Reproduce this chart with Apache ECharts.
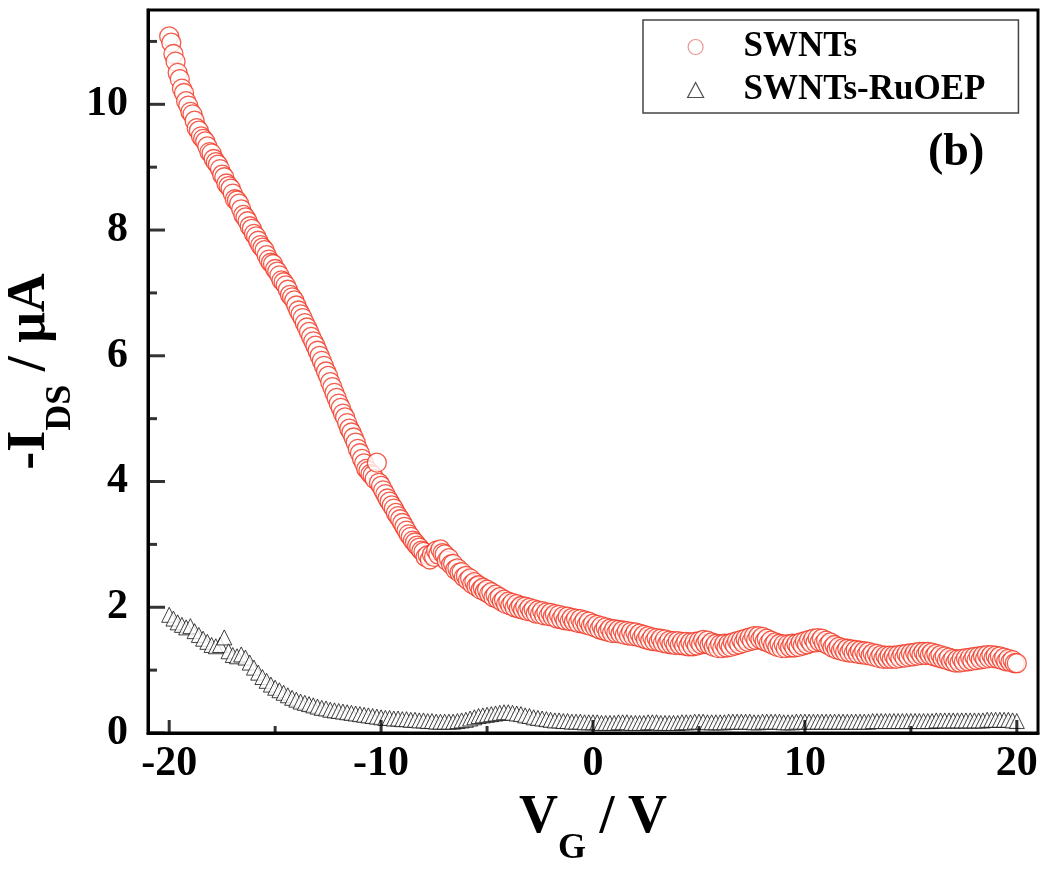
<!DOCTYPE html>
<html>
<head>
<meta charset="utf-8">
<script src="https://cdn.jsdelivr.net/npm/echarts@6/dist/echarts.min.js"></script>
<style>
html,body{margin:0;padding:0;background:#fff;}
#chart{width:1050px;height:877px;}
</style>
</head>
<body>
<div id="chart"></div>
<script>
// Gate voltage sweep for SWNTs (V)
const VG_SWNTS = [
-20.0,-19.9,-19.8,-19.7,-19.6,-19.5,-19.4,-19.3,-19.2,-19.1,
-19.0,-18.9,-18.8,-18.7,-18.6,-18.5,-18.4,-18.3,-18.2,-18.1,
-18.0,-17.9,-17.8,-17.7,-17.6,-17.5,-17.4,-17.3,-17.2,-17.1,
-17.0,-16.9,-16.8,-16.7,-16.6,-16.5,-16.4,-16.3,-16.2,-16.1,
-16.0,-15.9,-15.8,-15.7,-15.6,-15.5,-15.4,-15.3,-15.2,-15.1,
-15.0,-14.9,-14.8,-14.7,-14.6,-14.5,-14.4,-14.3,-14.2,-14.1,
-14.0,-13.9,-13.8,-13.7,-13.6,-13.5,-13.4,-13.3,-13.2,-13.1,
-13.0,-12.9,-12.8,-12.7,-12.6,-12.5,-12.4,-12.3,-12.2,-12.1,
-12.0,-11.9,-11.8,-11.7,-11.6,-11.5,-11.4,-11.3,-11.2,-11.1,
-11.0,-10.9,-10.8,-10.7,-10.6,-10.5,-10.4,-10.3,-10.2,-10.1,
-10.0,-9.9,-9.8,-9.7,-9.6,-9.5,-9.4,-9.3,-9.2,-9.1,
-9.0,-8.9,-8.8,-8.7,-8.6,-8.5,-8.4,-8.3,-8.2,-8.1,
-8.0,-7.9,-7.8,-7.7,-7.6,-7.5,-7.4,-7.3,-7.2,-7.1,
-7.0,-6.9,-6.8,-6.7,-6.6,-6.5,-6.4,-6.3,-6.2,-6.1,
-6.0,-5.9,-5.8,-5.7,-5.6,-5.5,-5.4,-5.3,-5.2,-5.1,
-5.0,-4.9,-4.8,-4.7,-4.6,-4.5,-4.4,-4.3,-4.2,-4.1,
-4.0,-3.9,-3.8,-3.7,-3.6,-3.5,-3.4,-3.3,-3.2,-3.1,
-3.0,-2.9,-2.8,-2.7,-2.6,-2.5,-2.4,-2.3,-2.2,-2.1,
-2.0,-1.9,-1.8,-1.7,-1.6,-1.5,-1.4,-1.3,-1.2,-1.1,
-1.0,-0.9,-0.8,-0.7,-0.6,-0.5,-0.4,-0.3,-0.2,-0.1,
0.0,0.1,0.2,0.3,0.4,0.5,0.6,0.7,0.8,0.9,
1.0,1.1,1.2,1.3,1.4,1.5,1.6,1.7,1.8,1.9,
2.0,2.1,2.2,2.3,2.4,2.5,2.6,2.7,2.8,2.9,
3.0,3.1,3.2,3.3,3.4,3.5,3.6,3.7,3.8,3.9,
4.0,4.1,4.2,4.3,4.4,4.5,4.6,4.7,4.8,4.9,
5.0,5.1,5.2,5.3,5.4,5.5,5.6,5.7,5.8,5.9,
6.0,6.1,6.2,6.3,6.4,6.5,6.6,6.7,6.8,6.9,
7.0,7.1,7.2,7.3,7.4,7.5,7.6,7.7,7.8,7.9,
8.0,8.1,8.2,8.3,8.4,8.5,8.6,8.7,8.8,8.9,
9.0,9.1,9.2,9.3,9.4,9.5,9.6,9.7,9.8,9.9,
10.0,10.1,10.2,10.3,10.4,10.5,10.6,10.7,10.8,10.9,
11.0,11.1,11.2,11.3,11.4,11.5,11.6,11.7,11.8,11.9,
12.0,12.1,12.2,12.3,12.4,12.5,12.6,12.7,12.8,12.9,
13.0,13.1,13.2,13.3,13.4,13.5,13.6,13.7,13.8,13.9,
14.0,14.1,14.2,14.3,14.4,14.5,14.6,14.7,14.8,14.9,
15.0,15.1,15.2,15.3,15.4,15.5,15.6,15.7,15.8,15.9,
16.0,16.1,16.2,16.3,16.4,16.5,16.6,16.7,16.8,16.9,
17.0,17.1,17.2,17.3,17.4,17.5,17.6,17.7,17.8,17.9,
18.0,18.1,18.2,18.3,18.4,18.5,18.6,18.7,18.8,18.9,
19.0,19.1,19.2,19.3,19.4,19.5,19.6,19.7,19.8,19.9,
20.0
];
// -I_DS (µA), SWNTs
const SWNTS = [
11.08,10.98,10.80,10.68,10.50,10.40,10.25,10.18,10.05,9.98,
9.88,9.84,9.74,9.62,9.58,9.49,9.45,9.41,9.33,9.24,
9.22,9.13,9.08,9.04,8.97,8.88,8.84,8.74,8.70,8.66,
8.58,8.49,8.47,8.42,8.33,8.24,8.20,8.14,8.06,8.02,
7.94,7.90,7.83,7.76,7.72,7.68,7.60,7.53,7.48,7.46,
7.38,7.34,7.28,7.20,7.17,7.12,7.05,6.97,6.93,6.88,
6.80,6.72,6.66,6.60,6.52,6.45,6.38,6.30,6.23,6.16,
6.08,6.00,5.92,5.84,5.75,5.68,5.58,5.50,5.41,5.33,
5.24,5.17,5.08,5.02,4.93,4.84,4.78,4.70,4.62,4.52,
4.45,4.36,4.29,4.20,4.17,4.12,4.10,4.04,4.30,3.98,
3.93,3.86,3.80,3.73,3.68,3.62,3.57,3.50,3.45,3.40,
3.34,3.28,3.22,3.16,3.12,3.06,3.03,2.98,2.95,2.90,
2.88,2.80,2.83,2.76,2.84,2.80,2.90,2.84,2.92,2.86,
2.84,2.74,2.78,2.68,2.69,2.60,2.62,2.55,2.56,2.48,
2.50,2.43,2.46,2.37,2.40,2.33,2.35,2.28,2.31,2.25,
2.28,2.21,2.24,2.16,2.20,2.13,2.16,2.09,2.12,2.05,
2.09,2.03,2.07,2.00,2.05,1.98,2.02,1.96,2.01,1.94,
1.99,1.93,1.97,1.90,1.95,1.89,1.94,1.87,1.92,1.86,
1.91,1.85,1.89,1.82,1.88,1.81,1.86,1.79,1.85,1.78,
1.83,1.77,1.82,1.75,1.81,1.74,1.79,1.72,1.77,1.70,
1.74,1.68,1.72,1.65,1.70,1.63,1.68,1.61,1.66,1.59,
1.65,1.59,1.64,1.58,1.63,1.56,1.62,1.55,1.61,1.54,
1.60,1.53,1.58,1.51,1.56,1.49,1.54,1.47,1.52,1.46,
1.51,1.45,1.50,1.43,1.49,1.42,1.47,1.41,1.46,1.40,
1.46,1.40,1.45,1.39,1.45,1.38,1.44,1.38,1.45,1.39,
1.46,1.41,1.48,1.42,1.47,1.40,1.44,1.37,1.42,1.35,
1.41,1.35,1.42,1.36,1.42,1.37,1.44,1.39,1.46,1.41,
1.48,1.43,1.50,1.45,1.52,1.47,1.54,1.48,1.54,1.49,
1.53,1.46,1.50,1.43,1.47,1.40,1.44,1.37,1.42,1.35,
1.41,1.35,1.41,1.36,1.42,1.36,1.42,1.37,1.44,1.39,
1.46,1.41,1.48,1.43,1.50,1.44,1.51,1.45,1.50,1.43,
1.47,1.40,1.44,1.36,1.40,1.33,1.37,1.31,1.35,1.29,
1.34,1.28,1.33,1.27,1.32,1.26,1.31,1.25,1.30,1.24,
1.29,1.23,1.27,1.21,1.26,1.19,1.24,1.18,1.23,1.18,
1.23,1.18,1.23,1.18,1.24,1.19,1.25,1.20,1.26,1.21,
1.27,1.22,1.28,1.23,1.29,1.24,1.29,1.24,1.29,1.24,
1.28,1.22,1.26,1.20,1.24,1.18,1.22,1.16,1.20,1.14,
1.18,1.12,1.17,1.12,1.18,1.13,1.19,1.14,1.20,1.15,
1.21,1.16,1.22,1.17,1.23,1.18,1.24,1.19,1.24,1.19,
1.23,1.18,1.22,1.16,1.20,1.14,1.18,1.13,1.16,1.11,
1.11
];
// Gate voltage sweep for SWNTs-RuOEP (V)
const VG_RUOEP = [
-20.0,-19.8,-19.6,-19.4,-19.2,-19.0,-18.8,-18.6,-18.4,-18.2,
-18.0,-17.8,-17.6,-17.4,-17.2,-17.0,-16.8,-16.6,-16.4,-16.2,
-16.0,-15.8,-15.6,-15.4,-15.2,-15.0,-14.8,-14.6,-14.4,-14.2,
-14.0,-13.8,-13.6,-13.4,-13.2,-13.0,-12.8,-12.6,-12.4,-12.2,
-12.0,-11.8,-11.6,-11.4,-11.2,-11.0,-10.8,-10.6,-10.4,-10.2,
-10.0,-9.8,-9.6,-9.4,-9.2,-9.0,-8.8,-8.6,-8.4,-8.2,
-8.0,-7.8,-7.6,-7.4,-7.2,-7.0,-6.8,-6.6,-6.4,-6.2,
-6.0,-5.8,-5.6,-5.4,-5.2,-5.0,-4.8,-4.6,-4.4,-4.2,
-4.0,-3.8,-3.6,-3.4,-3.2,-3.0,-2.8,-2.6,-2.4,-2.2,
-2.0,-1.8,-1.6,-1.4,-1.2,-1.0,-0.8,-0.6,-0.4,-0.2,
0.0,0.2,0.4,0.6,0.8,1.0,1.2,1.4,1.6,1.8,
2.0,2.2,2.4,2.6,2.8,3.0,3.2,3.4,3.6,3.8,
4.0,4.2,4.4,4.6,4.8,5.0,5.2,5.4,5.6,5.8,
6.0,6.2,6.4,6.6,6.8,7.0,7.2,7.4,7.6,7.8,
8.0,8.2,8.4,8.6,8.8,9.0,9.2,9.4,9.6,9.8,
10.0,10.2,10.4,10.6,10.8,11.0,11.2,11.4,11.6,11.8,
12.0,12.2,12.4,12.6,12.8,13.0,13.2,13.4,13.6,13.8,
14.0,14.2,14.4,14.6,14.8,15.0,15.2,15.4,15.6,15.8,
16.0,16.2,16.4,16.6,16.8,17.0,17.2,17.4,17.6,17.8,
18.0,18.2,18.4,18.6,18.8,19.0,19.2,19.4,19.6,19.8,
20.0
];
// -I_DS (µA), SWNTs-RuOEP
const SWNTS_RUOEP = [
1.88,1.82,1.76,1.72,1.68,1.70,1.62,1.56,1.50,1.45,
1.40,1.38,1.40,1.52,1.30,1.24,1.22,1.25,1.20,1.12,
1.04,0.96,0.89,0.83,0.77,0.72,0.68,0.64,0.60,0.56,
0.53,0.50,0.48,0.46,0.44,0.42,0.40,0.39,0.37,0.36,
0.35,0.34,0.33,0.32,0.31,0.30,0.29,0.28,0.27,0.26,
0.25,0.24,0.24,0.23,0.23,0.22,0.22,0.21,0.21,0.20,
0.20,0.19,0.19,0.18,0.18,0.18,0.18,0.18,0.19,0.20,
0.21,0.23,0.25,0.27,0.28,0.29,0.30,0.31,0.32,0.33,
0.33,0.32,0.31,0.30,0.28,0.27,0.25,0.24,0.23,0.22,
0.21,0.20,0.20,0.19,0.19,0.18,0.18,0.18,0.17,0.17,
0.17,0.17,0.16,0.16,0.16,0.16,0.17,0.17,0.17,0.16,
0.16,0.16,0.16,0.17,0.17,0.17,0.16,0.16,0.16,0.16,
0.16,0.17,0.17,0.17,0.18,0.18,0.18,0.17,0.17,0.17,
0.17,0.17,0.18,0.18,0.18,0.18,0.18,0.18,0.17,0.17,
0.18,0.18,0.18,0.18,0.18,0.17,0.17,0.17,0.18,0.18,
0.18,0.18,0.18,0.18,0.18,0.18,0.18,0.18,0.18,0.18,
0.18,0.18,0.18,0.18,0.18,0.18,0.19,0.19,0.19,0.19,
0.19,0.19,0.19,0.19,0.19,0.19,0.19,0.19,0.19,0.19,
0.19,0.20,0.20,0.20,0.20,0.20,0.20,0.20,0.20,0.20,
0.20,0.20,0.20,0.21,0.21,0.21,0.21,0.21,0.21,0.20,
0.19
];
// Axis ranges and ticks
const X_RANGE = [-21, 21];      // frame extent
const X_TICK_RANGE = [-20, 20]; // labelled extent
const X_STEP = 10;
const Y_RANGE = [0, 11.5];
const Y_STEP = 2;
const X_MAJOR = [-20, -10, 0, 10, 20];
const X_MINOR = [-15, -5, 5, 15];
const Y_MAJOR = [0, 2, 4, 6, 8, 10];
const Y_MINOR = [1, 3, 5, 7, 9, 11];
const SERIES_NAMES = ['SWNTs', 'SWNTs-RuOEP'];

const FONT = "'Liberation Serif', 'Times New Roman', serif";
const chart = echarts.init(document.getElementById('chart'), null, {renderer: 'canvas'});
const pairs = (xs, ys) => xs.map((x, i) => [x, ys[i]]);

// frame grid (148..1038) and label grid inset by 1 V on each side
const FRAME = {left: 148, right: 12, top: 10, bottom: 144};
const pxPerV = (1050 - FRAME.left - FRAME.right) / (X_RANGE[1] - X_RANGE[0]);
const inset = (X_TICK_RANGE[0] - X_RANGE[0]) * pxPerV;

const titleRich = {
  m: {fontFamily: FONT, fontWeight: 'bold', fontSize: 54, color: '#000', lineHeight: 60},
  s: {fontFamily: FONT, fontWeight: 'bold', fontSize: 36, color: '#000', lineHeight: 60, verticalAlign: 'bottom', padding: [0, 0, -19, 0]}
};

// inward tick marks as rectangle symbols placed through the axes' scales
const xTick = (v, len) => ({value: [v, Y_RANGE[0]], symbolSize: [3, len], symbolOffset: [0, -len / 2]});
const yTick = (v, len) => ({value: [X_RANGE[0], v], symbolSize: [len, 3], symbolOffset: [len / 2, 0]});
const tickData = []
  .concat(X_MAJOR.map(v => xTick(v, 13)))
  .concat(X_MINOR.map(v => xTick(v, 7)))
  .concat(Y_MAJOR.map(v => yTick(v, 17)))
  .concat(Y_MINOR.map(v => yTick(v, 9)));

const option = {
  backgroundColor: '#fff',
  animation: false,
  grid: [
    Object.assign({}, FRAME, {outerBoundsMode: 'none', containLabel: false, show: true, borderColor: '#000', borderWidth: 3, backgroundColor: 'transparent'}),
    {left: FRAME.left + inset, right: FRAME.right + inset, top: FRAME.top, bottom: FRAME.bottom, outerBoundsMode: 'none', containLabel: false, show: false}
  ],
  xAxis: [
    {
      type: 'value', min: X_RANGE[0], max: X_RANGE[1], gridIndex: 0, position: 'bottom',
      splitLine: {show: false},
      name: '{m|V}{s|G}{m| / V}',
      nameLocation: 'middle', nameGap: 55, nameMoveOverlap: false,
      nameTextStyle: {rich: titleRich},
      axisLine: {show: true, onZero: false, lineStyle: {color: '#000', width: 3}},
      axisTick: {show: false},
      axisLabel: {show: false}
    },
    {
      type: 'value', min: X_TICK_RANGE[0], max: X_TICK_RANGE[1], interval: X_STEP, gridIndex: 1, position: 'bottom',
      splitLine: {show: false},
      axisLine: {show: false, onZero: false},
      axisTick: {show: false},
      axisLabel: {show: true, margin: 10, fontFamily: FONT, fontWeight: 'bold', fontSize: 42, color: '#000'}
    }
  ],
  yAxis: [
    {
      type: 'value', min: Y_RANGE[0], max: Y_RANGE[1], interval: Y_STEP, gridIndex: 0, position: 'left',
      splitLine: {show: false},
      name: '{m|-I}{s|DS}{m| / μA}',
      nameLocation: 'middle', nameGap: 88, nameRotate: 90, nameMoveOverlap: false,
      nameTextStyle: {rich: titleRich},
      axisLine: {show: true, onZero: false, lineStyle: {color: '#000', width: 3}},
      axisTick: {show: false},
      axisLabel: {show: true, showMaxLabel: false, margin: 20, fontFamily: FONT, fontWeight: 'bold', fontSize: 42, color: '#000'}
    },
    {
      type: 'value', min: Y_RANGE[0], max: Y_RANGE[1], gridIndex: 1, show: false
    }
  ],
  legend: {
    orient: 'vertical',
    left: 643, top: 20,
    padding: [9, 33, 5, 44],
    itemGap: 7,
    itemWidth: 16, itemHeight: 15,
    borderColor: '#444', borderWidth: 1.5, borderRadius: 0,
    backgroundColor: '#fff',
    textStyle: {fontFamily: FONT, fontWeight: 'bold', fontSize: 35, color: '#000', lineHeight: 36, padding: [0, 0, 0, 35]},
    data: [
      {name: SERIES_NAMES[0], icon: 'circle', itemStyle: {color: '#fff', borderColor: '#e07a78', borderWidth: 1.2}},
      {name: SERIES_NAMES[1], icon: 'triangle', itemStyle: {color: '#fff', borderColor: '#222', borderWidth: 1.2}}
    ]
  },
  graphic: [
    {type: 'text', left: 928, top: 130, style: {text: '(b)', font: "bold 46px 'Liberation Serif', serif", fill: '#000'}}
  ],
  series: [
    {
      name: SERIES_NAMES[1], type: 'scatter', xAxisIndex: 0, yAxisIndex: 0,
      data: pairs(VG_RUOEP, SWNTS_RUOEP),
      symbol: 'triangle', symbolSize: 15,
      itemStyle: {color: '#fff', borderColor: '#111', borderWidth: 1},
      z: 2
    },
    {
      name: SERIES_NAMES[0], type: 'scatter', xAxisIndex: 0, yAxisIndex: 0,
      data: pairs(VG_SWNTS, SWNTS),
      symbol: 'circle', symbolSize: 19,
      itemStyle: {color: '#fff', borderColor: '#f0321e', borderWidth: 1.3},
      z: 3
    },
    {
      name: 'ticks', type: 'scatter', xAxisIndex: 0, yAxisIndex: 0,
      data: tickData, symbol: 'rect', clip: false, silent: true,
      itemStyle: {color: '#000', borderWidth: 0},
      emphasis: {disabled: true},
      z: 10
    }
  ]
};
chart.setOption(option);
</script>
</body>
</html>
